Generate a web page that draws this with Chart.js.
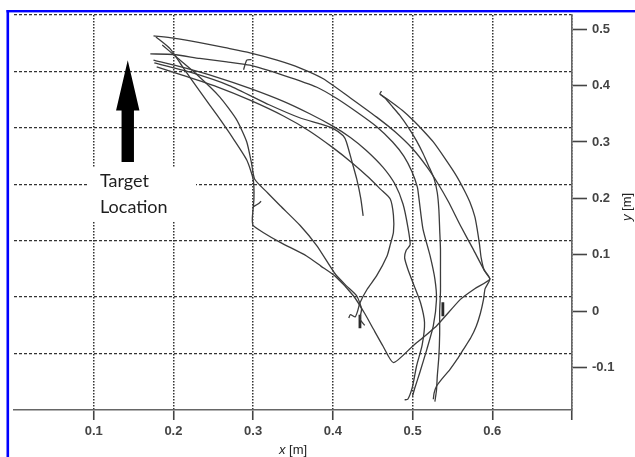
<!DOCTYPE html>
<html>
<head>
<meta charset="utf-8">
<script src="https://cdn.jsdelivr.net/npm/chart.js@4.4.1/dist/chart.umd.min.js"></script>
<style>
  html, body { margin: 0; padding: 0; background: #fff; }
  #wrap { width: 635px; height: 457px; }
</style>
</head>
<body>
<div id="wrap"><canvas id="traj" width="635" height="457"></canvas></div>
<script>
// Axis ticks
const xTicks = [0.1, 0.2, 0.3, 0.4, 0.5, 0.6, 0.7];
const yTicks = [0.5, 0.4, 0.3, 0.2, 0.1, 0, -0.1];
// the dashed horizontal grid in the figure sits a bit above the y ticks
const yGridLines = [0.525, 0.425, 0.325, 0.225, 0.125, 0.025, -0.075];

// Trajectories, [x, y] in metres
const pathA = [
  [0.175,0.488],[0.200,0.484],[0.233,0.476],[0.265,0.467],[0.296,0.458],[0.330,0.445],[0.359,0.431],
  [0.388,0.412],[0.422,0.378],[0.455,0.344],[0.478,0.318],[0.500,0.288],[0.518,0.256],[0.532,0.226],
  [0.545,0.194],[0.560,0.152],[0.576,0.110],[0.589,0.075],[0.597,0.057],[0.578,0.040],[0.560,0.021],
  [0.530,-0.026],[0.500,-0.062],[0.476,-0.091],[0.463,-0.062],[0.451,-0.032],[0.440,-0.004],[0.426,0.027],
  [0.403,0.062],[0.385,0.080],[0.367,0.098],[0.334,0.122],[0.312,0.140],[0.300,0.152],[0.299,0.165],
  [0.301,0.200],[0.300,0.234],[0.292,0.268],[0.275,0.306],[0.255,0.347],[0.233,0.390],[0.212,0.432],
  [0.196,0.465],[0.178,0.486]
];
const pathB = [
  [0.459,0.385],[0.472,0.372],[0.487,0.356],[0.501,0.338],[0.514,0.319],[0.526,0.300],[0.541,0.270],
  [0.555,0.240],[0.565,0.214],[0.572,0.193],[0.578,0.168],[0.581,0.146],[0.584,0.118],[0.586,0.095],
  [0.590,0.072],[0.597,0.057],[0.591,0.040],[0.589,0.021],[0.585,-0.004],[0.580,-0.026],[0.573,-0.047],
  [0.564,-0.067],[0.556,-0.085],[0.547,-0.103],[0.538,-0.118],[0.530,-0.133],[0.527,-0.145],[0.526,-0.156]
];
const pathC = [
  [0.461,0.390],[0.459,0.385],[0.466,0.377],[0.475,0.362],[0.484,0.347],[0.495,0.325],[0.505,0.302],
  [0.513,0.280],[0.520,0.258],[0.527,0.235],[0.531,0.210],[0.533,0.180],[0.534,0.145],[0.535,0.110],
  [0.535,0.070],[0.535,0.035],[0.534,0.000],[0.534,-0.040],[0.533,-0.080],[0.531,-0.115],[0.530,-0.140],
  [0.528,-0.160]
];
const pathD = [
  [0.171,0.456],[0.200,0.455],[0.233,0.448],[0.267,0.442],[0.296,0.436],[0.338,0.418],[0.380,0.397],
  [0.405,0.377],[0.430,0.353],[0.455,0.327],[0.475,0.300],[0.489,0.275],[0.499,0.248],[0.506,0.220],
  [0.508,0.200],[0.513,0.146],[0.522,0.098],[0.528,0.057],[0.530,0.021],[0.526,-0.026],[0.518,-0.067],
  [0.509,-0.109],[0.503,-0.135],[0.500,-0.150]
];
const pathE = [
  [0.175,0.445],[0.212,0.432],[0.254,0.415],[0.296,0.395],[0.338,0.372],[0.371,0.350],[0.400,0.328],
  [0.422,0.308],[0.442,0.285],[0.463,0.255],[0.478,0.225],[0.488,0.190],[0.494,0.150],[0.497,0.118],
  [0.492,0.108],[0.490,0.095],[0.494,0.075],[0.502,0.045],[0.510,0.015],[0.515,-0.020],[0.512,-0.060],
  [0.505,-0.097],[0.500,-0.133],[0.494,-0.156],[0.490,-0.157]
];
const pathF = [
  [0.179,0.433],[0.212,0.418],[0.254,0.398],[0.296,0.374],[0.338,0.346],[0.370,0.320],[0.400,0.290],
  [0.425,0.262],[0.445,0.237],[0.460,0.216],[0.472,0.199],[0.476,0.170],[0.476,0.140],[0.472,0.118],
  [0.468,0.098],[0.455,0.063],[0.443,0.039],[0.434,0.015],[0.431,0.000],[0.428,-0.010],[0.422,-0.006],
  [0.420,-0.012]
];
const pathG = [
  [0.186,0.472],[0.204,0.450],[0.229,0.420],[0.258,0.380],[0.279,0.340],[0.292,0.300],[0.298,0.262],
  [0.302,0.234],[0.318,0.210],[0.334,0.187],[0.359,0.152],[0.380,0.116],[0.403,0.066],[0.417,0.045],
  [0.430,0.027],[0.436,0.004],[0.434,-0.014],[0.440,-0.025]
];
const pathH = [
  [0.176,0.440],[0.220,0.424],[0.270,0.400],[0.320,0.366],[0.360,0.342],[0.384,0.332],[0.400,0.324],
  [0.413,0.311],[0.417,0.300],[0.424,0.265],[0.430,0.234],[0.435,0.200],[0.438,0.169]
];
const markTop = [[0.298,0.446],[0.292,0.445],[0.288,0.428]];
const markHook = [[0.300,0.185],[0.306,0.190],[0.310,0.195]];
const barLeft = [[0.434,-0.006],[0.434,-0.030]];
const barRight = [[0.538,0.016],[0.538,-0.009]];

const thinPaths = [pathA, pathB, pathC, pathD, pathE, pathF, pathG, pathH, markTop, markHook];
const thickPaths = [barLeft, barRight];

const lineColor = '#3c3c3c';
const toPts = p => p.map(([x, y]) => ({ x, y }));

const datasets = thinPaths.map(p => ({
  data: toPts(p), showLine: true, pointRadius: 0, borderColor: lineColor, borderWidth: 1.3, tension: 0.2
})).concat(thickPaths.map(p => ({
  data: toPts(p), showLine: true, pointRadius: 0, borderColor: '#2a2a2a', borderWidth: 2.8
})));

// annotation: arrow, target label, axis titles, blue frame
const extras = {
  id: 'extras',
  beforeDraw(chart) {
    const ctx = chart.ctx;
    ctx.save();
    ctx.fillStyle = '#fff';
    ctx.fillRect(0, 0, chart.width, chart.height);
    ctx.restore();
  },
  beforeDatasetsDraw(chart) {
    const ctx = chart.ctx;
    ctx.save();
    ctx.fillStyle = '#fff';
    ctx.fillRect(88, 167, 108, 55);
    ctx.fillStyle = '#1e1e1e';
    ctx.font = '18px Lato';
    ctx.textBaseline = 'alphabetic';
    ctx.fillText('Target', 100, 186.5);
    ctx.fillText('Location', 100, 212.5);
    ctx.restore();
  },
  afterDraw(chart) {
    const ctx = chart.ctx;
    const sx = chart.scales.x, sy = chart.scales.y;
    const ax = sx.getPixelForValue(0.1427);
    const tip = sy.getPixelForValue(0.4446);
    const head = sy.getPixelForValue(0.3558);
    const foot = sy.getPixelForValue(0.2647);
    ctx.save();
    ctx.fillStyle = '#000';
    ctx.beginPath();
    ctx.moveTo(ax, tip);
    ctx.lineTo(ax + 11.7, head);
    ctx.lineTo(ax + 6.2, head);
    ctx.lineTo(ax + 6.2, foot);
    ctx.lineTo(ax - 6.2, foot);
    ctx.lineTo(ax - 6.2, head);
    ctx.lineTo(ax - 11.7, head);
    ctx.closePath();
    ctx.fill();

    // axis titles
    ctx.fillStyle = '#222';
    ctx.textBaseline = 'alphabetic';
    const cx = (chart.chartArea.left + chart.chartArea.right) / 2;
    ctx.font = 'italic 13px "Liberation Sans"';
    const wx = ctx.measureText('x').width;
    ctx.font = '13px "Liberation Sans"';
    const wm = ctx.measureText(' [m]').width;
    let x0 = cx - (wx + wm) / 2;
    ctx.font = 'italic 13px "Liberation Sans"';
    ctx.fillText('x', x0, 454);
    ctx.font = '13px "Liberation Sans"';
    ctx.fillText(' [m]', x0 + wx, 454);

    ctx.translate(631, 207);
    ctx.rotate(-Math.PI / 2);
    ctx.font = 'italic 13px "Liberation Sans"';
    const wy = ctx.measureText('y').width;
    x0 = -(wy + wm) / 2;
    ctx.fillText('y', x0, 0);
    ctx.font = '13px "Liberation Sans"';
    ctx.fillText(' [m]', x0 + wy, 0);
    ctx.restore();

    ctx.save();
    ctx.fillStyle = '#0000ff';
    ctx.fillRect(6.5, 10, 2.6, chart.height - 10);
    ctx.fillRect(6.5, 10, chart.width - 6.5, 2.4);
    ctx.restore();
  }
};

const tickFont = { family: '"Liberation Sans", Arial, sans-serif', size: 13, weight: 'bold' };

new Chart(document.getElementById('traj'), {
  type: 'scatter',
  data: { datasets },
  plugins: [extras],
  options: {
    responsive: false,
    animation: false,
    events: [],
    layout: { padding: { left: 14, top: 15, right: 0, bottom: 0 } },
    plugins: { legend: { display: false }, tooltip: { enabled: false } },
    scales: {
      x: {
        type: 'linear', min: 0, max: 0.7, bounds: 'data',
        afterBuildTicks: s => { s.ticks = xTicks.map(v => ({ value: v })); },
        afterFit: s => { s.height = 47; },
        grid: { color: '#333', lineWidth: 1.5, tickLength: 10, tickColor: '#444', tickWidth: 1.6 },
        border: { display: true, color: '#666', width: 1.6, dash: [1.5, 1.5] },
        ticks: {
          padding: 4, color: '#444', font: tickFont, maxRotation: 0,
          callback: v => (v > 0.65 ? '' : v.toFixed(1))
        }
      },
      y: {
        type: 'linear', position: 'right', min: -0.175, max: 0.525, bounds: 'data',
        afterBuildTicks: s => { s.ticks = yTicks.map(v => ({ value: v })); },
        afterFit: s => { s.width = 63; },
        grid: { drawOnChartArea: false, tickLength: 15, tickColor: '#444', tickWidth: 1.6 },
        border: { display: true, color: '#666', width: 1.6 },
        ticks: {
          padding: 5, color: '#444', font: tickFont,
          callback: v => (v === 0 ? '0' : v.toFixed(1))
        }
      },
      yg: {
        type: 'linear', position: 'left', min: -0.175, max: 0.525, bounds: 'data',
        afterBuildTicks: s => { s.ticks = yGridLines.map(v => ({ value: v })); },
        afterFit: s => { s.width = 0; },
        ticks: { display: false },
        grid: { drawTicks: false, color: '#333', lineWidth: 1.3 },
        border: { display: false, dash: [3, 2] }
      }
    }
  }
});
</script>
</body>
</html>
